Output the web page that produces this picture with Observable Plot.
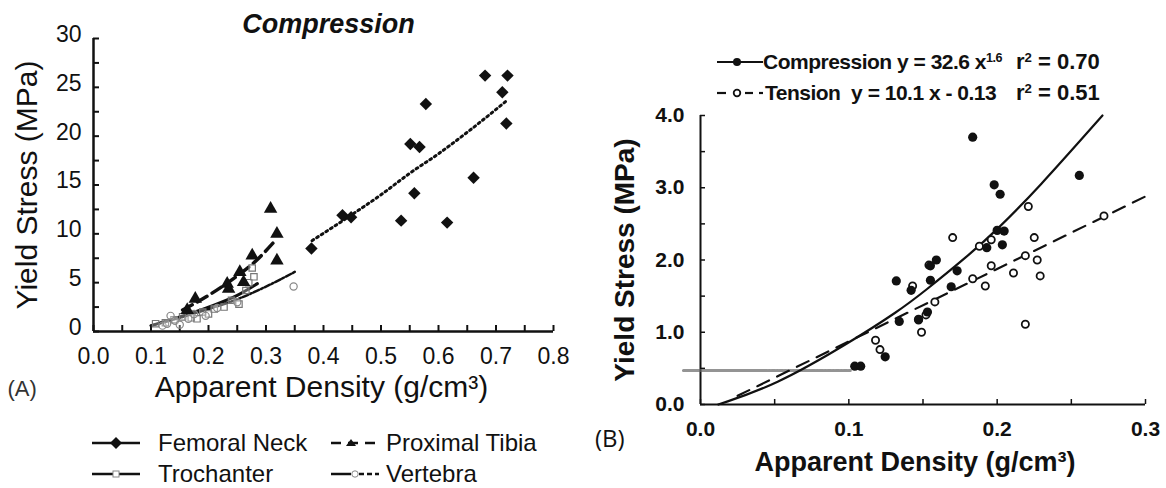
<!DOCTYPE html>
<html><head><meta charset="utf-8">
<script src="https://cdn.jsdelivr.net/npm/d3@7"></script>
<script src="https://cdn.jsdelivr.net/npm/@observablehq/plot@0.6"></script>
<style>
body{margin:0;background:#fff;}
#wrap{position:relative;width:1166px;height:488px;overflow:hidden;background:#fff;font-family:"Liberation Sans",Arial,sans-serif;color:#111;}
#wrap > *{position:absolute;}
.lg{white-space:pre;line-height:22px;}
.lgb{white-space:pre;line-height:22px;font-weight:bold;}
sup{font-size:0.6em;vertical-align:0.55em;line-height:0;}
</style></head><body><div id="wrap"></div>
<script>
// ---------- Panel A: Compression by anatomic site ----------
const neckX = [0.379,0.433,0.448,0.535,0.551,0.558,0.567,0.578,0.615,0.661,0.681,0.711,0.72,0.718];
const neckY = [8.5,11.9,11.7,11.35,19.2,14.15,18.9,23.3,11.15,15.75,26.2,24.5,26.2,21.3];
const neckFitX = [0.38,0.44,0.5,0.55,0.6,0.65,0.72];
const neckFitY = [9.3,11.6,14.0,16.2,18.2,20.4,23.7];

const tibiaX = [0.163,0.177,0.2325,0.235,0.2545,0.261,0.276,0.308,0.319,0.319];
const tibiaY = [2.2,3.35,4.88,4.37,6.08,5.05,7.78,12.56,10.0,7.27];
const tibiaFitX = [0.155,0.2,0.25,0.28,0.319];
const tibiaFitY = [2.2,3.7,5.7,7.1,9.5];

const trochX = [0.108,0.125,0.14,0.155,0.17,0.18,0.19,0.2,0.21,0.227,0.24,0.253,0.265,0.27,0.276,0.279];
const trochY = [0.8,0.9,1.2,1.5,1.4,1.3,2.0,1.8,2.3,2.5,3.2,2.8,4.2,5.0,6.5,5.6];
const trochFitX = [0.1,0.15,0.2,0.25,0.285];
const trochFitY = [0.6,1.5,2.5,3.7,4.9];

const vertX = [0.12,0.128,0.134,0.142,0.15,0.165,0.175,0.195,0.215,0.25,0.348];
const vertY = [0.6,0.8,1.6,1.1,0.7,1.3,1.8,1.6,2.4,3.0,4.6];
const vertFitX = [0.1,0.15,0.2,0.25,0.3,0.35];
const vertFitY = [0.6,1.4,2.3,3.3,4.6,6.1];

const aXTicks = [0,0.1,0.2,0.3,0.4,0.5,0.6,0.7,0.8];
const aXLabels = ["0.0","0.1","0.2","0.3","0.4","0.5","0.6","0.7","0.8"];
const aXMinor = [0,0.05,0.1,0.15,0.2,0.25,0.3,0.35,0.4,0.45,0.5,0.55,0.6,0.65,0.7,0.75,0.8];
const aYTicks = [0,5,10,15,20,25,30];
const aYLabels = ["0","5","10","15","20","25","30"];
const aYMinor = [0,2.5,5,7.5,10,12.5,15,17.5,20,22.5,25,27.5,30];

// ---------- Panel B: compression vs tension ----------
const compX = [0.1835,0.198,0.202,0.2554,0.2,0.2047,0.2035,0.193,0.159,0.155,0.173,0.155,0.132,0.142,0.169,0.134,0.147,0.153,0.1245,0.104,0.108];
const compY = [3.70,3.04,2.91,3.17,2.41,2.40,2.21,2.17,2.0,1.92,1.85,1.72,1.71,1.58,1.63,1.15,1.18,1.28,0.66,0.53,0.53];
const tensX = [0.221,0.272,0.170,0.196,0.225,0.188,0.219,0.227,0.196,0.154,0.211,0.229,0.1835,0.192,0.143,0.158,0.152,0.149,0.118,0.121,0.219,0.147];
const tensY = [2.74,2.61,2.31,2.28,2.31,2.19,2.06,2.0,1.92,1.93,1.82,1.78,1.74,1.64,1.64,1.42,1.24,1.0,0.89,0.76,1.11,1.17];
const compFitX = [0.012,0.05,0.1,0.134,0.15,0.18,0.2,0.227,0.271];
const compFitY = [0,0.26,0.85,1.3,1.55,2.05,2.42,2.98,4.0];
const tensFitX = [0.025,0.3];
const tensFitY = [0.12,2.88];
const smearX = [-0.0115,0.101];
const smearY = [0.47,0.47];

const bXTicks = [0,0.1,0.2,0.3];
const bXLabels = ["0.0","0.1","0.2","0.3"];
const bXMinor = [0,0.05,0.1,0.15,0.2,0.25,0.3];
const bYTicks = [0,1,2,3,4];
const bYLabels = ["0.0","1.0","2.0","3.0","4.0"];
const bYMinor = [0,0.5,1,1.5,2,2.5,3,3.5,4];

const zip = (xs, ys) => xs.map((x, i) => ({x, y: ys[i]}));
const ink = "#111";

const wrap = document.getElementById("wrap");

// ----- Panel A plot -----
const A = Plot.plot({
  width: 600, height: 420,
  marginLeft: 93, marginRight: 47, marginTop: 38, marginBottom: 89,
  x: {domain: [0, 0.8]}, y: {domain: [0, 30]},
  style: {fontFamily: "'Liberation Sans', Arial, sans-serif", color: ink, background: "transparent", overflow: "visible"},
  marks: [
    Plot.axisX(aXTicks, {tickSize: 0, tickPadding: 16, fontSize: 23, tickFormat: d => aXLabels[aXTicks.indexOf(d)], label: null}),
    Plot.axisY(aYTicks, {tickSize: 0, tickPadding: 12, dy: -4, fontSize: 23, tickFormat: d => aYLabels[aYTicks.indexOf(d)], label: null}),
    Plot.ruleX(aXMinor, {x: d => d, y1: () => 0, y2: () => 0, insetBottom: 6, stroke: ink, strokeWidth: 2}),
    Plot.ruleY(aYMinor, {y: d => d, x1: () => 0, x2: () => 0, insetRight: -6, stroke: ink, strokeWidth: 2}),
    Plot.ruleY([0], {stroke: ink, strokeWidth: 2.5}),
    Plot.ruleX([0], {stroke: ink, strokeWidth: 2.5}),
    // fits
    Plot.line(zip(trochFitX, trochFitY), {x: "x", y: "y", curve: "monotone-x", stroke: ink, strokeWidth: 3}),
    Plot.line(zip(vertFitX, vertFitY), {x: "x", y: "y", curve: "monotone-x", stroke: ink, strokeWidth: 2.5, strokeDasharray: "6,2,2,2"}),
    Plot.line(zip(tibiaFitX, tibiaFitY), {x: "x", y: "y", curve: "monotone-x", stroke: ink, strokeWidth: 3.5, strokeDasharray: "11,6"}),
    Plot.line(zip(neckFitX, neckFitY), {x: "x", y: "y", curve: "monotone-x", stroke: ink, strokeWidth: 3, strokeDasharray: "2,3.5"}),
    // points
    Plot.dot(zip(trochX, trochY), {x: "x", y: "y", symbol: "square", r: 3.6, stroke: "#777", strokeWidth: 1.2, fill: "white", fillOpacity: 0.3}),
    Plot.dot(zip(vertX, vertY), {x: "x", y: "y", symbol: "circle", r: 3.6, stroke: "#888", strokeWidth: 1.2, fill: "white", fillOpacity: 0.3}),
    Plot.dot(zip(tibiaX, tibiaY), {x: "x", y: "y", symbol: "triangle", r: 5, fill: ink, stroke: "none"}),
    Plot.dot(zip(neckX, neckY), {x: "x", y: "y", symbol: "diamond2", r: 5.6, fill: ink, stroke: "none"}),
    // titles & labels
    Plot.text(["Compression"], {frameAnchor: "top", dx: 5, dy: -6, lineAnchor: "bottom", fontSize: 27, fontWeight: "bold", fontStyle: "italic", fill: ink}),
    Plot.text(["Apparent Density (g/cm³)"], {frameAnchor: "bottom", dx: -2, dy: 65, lineAnchor: "bottom", fontSize: 30, fill: ink}),
    Plot.text(["Yield Stress (MPa)"], {frameAnchor: "left", dx: -66, rotate: -90, textAnchor: "middle", lineAnchor: "middle", fontSize: 30, fill: ink}),
    Plot.text(["(A)"], {frameAnchor: "bottom-left", dx: -86, dy: 64, textAnchor: "start", lineAnchor: "bottom", fontSize: 22, fill: "#333"})
  ]
});
A.style.left = "0px"; A.style.top = "0px";
wrap.appendChild(A);

// ----- Panel B plot -----
const B = Plot.plot({
  width: 566, height: 488,
  marginLeft: 100, marginRight: 21, marginTop: 115, marginBottom: 84,
  x: {domain: [0, 0.3]}, y: {domain: [0, 4]},
  style: {fontFamily: "'Liberation Sans', Arial, sans-serif", color: ink, background: "transparent", overflow: "visible"},
  marks: [
    Plot.axisX(bXTicks, {tickSize: 0, tickPadding: 17, fontSize: 21, fontWeight: "bold", tickFormat: d => bXLabels[bXTicks.indexOf(d)], label: null}),
    Plot.axisY(bYTicks, {tickSize: 0, tickPadding: 16, fontSize: 21, fontWeight: "bold", tickFormat: d => bYLabels[bYTicks.indexOf(d)], label: null}),
    Plot.ruleX(bXMinor, {x: d => d, y1: () => 0, y2: () => 0, insetBottom: 5, stroke: ink, strokeWidth: 1.5}),
    Plot.ruleY(bYMinor, {y: d => d, x1: () => 0, x2: () => 0, insetRight: -5, stroke: ink, strokeWidth: 1.5}),
    Plot.ruleY([0], {stroke: ink, strokeWidth: 2}),
    Plot.ruleX([0], {stroke: ink, strokeWidth: 2}),
    Plot.line(zip(smearX, smearY), {x: "x", y: "y", stroke: "#666", strokeWidth: 3, strokeDasharray: "4,1,2,1", strokeOpacity: 0.7}),
    Plot.line(zip(compFitX, compFitY), {x: "x", y: "y", curve: "basis", stroke: ink, strokeWidth: 2.2}),
    Plot.line(zip(tensFitX, tensFitY), {x: "x", y: "y", stroke: ink, strokeWidth: 2.2, strokeDasharray: "13,9"}),
    Plot.dot(zip(tensX, tensY), {x: "x", y: "y", r: 3.6, stroke: ink, strokeWidth: 1.8, fill: "white"}),
    Plot.dot(zip(compX, compY), {x: "x", y: "y", r: 4.6, fill: ink, stroke: "none"}),
    Plot.text(["Apparent Density (g/cm³)"], {frameAnchor: "bottom", dx: -8, dy: 66, lineAnchor: "bottom", fontSize: 27, fontWeight: "bold", fill: ink}),
    Plot.text(["Yield Stress (MPa)"], {frameAnchor: "left", dx: -75, rotate: -90, textAnchor: "middle", lineAnchor: "middle", fontSize: 28, fontWeight: "bold", fill: ink})
  ]
});
B.style.left = "600px"; B.style.top = "0px";
wrap.appendChild(B);

// ----- HTML labels and legends -----
function addDiv(html, left, top, cls, extra) {
  const d = document.createElement("div");
  d.className = cls; d.innerHTML = html;
  d.style.left = left + "px"; d.style.top = top + "px";
  if (extra) Object.assign(d.style, extra);
  wrap.appendChild(d);
  return d;
}
function addSvg(inner, left, top, w, h) {
  const d = document.createElement("div");
  d.style.left = left + "px"; d.style.top = top + "px";
  d.innerHTML = `<svg width="${w}" height="${h}" viewBox="0 0 ${w} ${h}">${inner}</svg>`;
  wrap.appendChild(d);
}

addDiv("(B)", 595, 425, "lg", {fontSize: "24px", lineHeight: "26px", fontFamily: "'Open Sans','Liberation Sans',sans-serif"});

// Legend A
const legA = [
  {name: "Femoral Neck", left: 92, row: 443,
   sw: `<line x1="0" y1="10" x2="48" y2="10" stroke="${ink}" stroke-width="2.5"/><path d="M24,4 L30,10 L24,16 L18,10Z" fill="${ink}"/>`},
  {name: "Proximal Tibia", left: 331, row: 443,
   sw: `<line x1="0" y1="10" x2="48" y2="10" stroke="${ink}" stroke-width="2.5" stroke-dasharray="10,7"/><path d="M20,6 L25,13 L15,13Z" fill="${ink}"/>`},
  {name: "Trochanter", left: 92, row: 474,
   sw: `<line x1="0" y1="10" x2="48" y2="10" stroke="${ink}" stroke-width="2.5"/><rect x="21" y="7" width="6" height="6" fill="white" stroke="#888" stroke-width="1"/>`},
  {name: "Vertebra", left: 331, row: 474,
   sw: `<line x1="0" y1="10" x2="20" y2="10" stroke="${ink}" stroke-width="2.5"/><line x1="28" y1="10" x2="48" y2="10" stroke="${ink}" stroke-width="2.5" stroke-dasharray="5,3"/><circle cx="24" cy="10" r="3.2" fill="white" stroke="#888" stroke-width="1"/>`}
];
legA.forEach(it => {
  addSvg(it.sw, it.left, it.row - 10, 48, 20);
  addDiv(it.name, it.left + (it.left < 200 ? 66 : 55), it.row - 11, "lg", {fontSize: "24px"});
});

// Legend B
addSvg(`<line x1="0" y1="10" x2="46" y2="10" stroke="${ink}" stroke-width="2.2"/><circle cx="20" cy="10" r="4" fill="${ink}"/>`, 717, 52, 46, 20);
addSvg(`<line x1="0" y1="10" x2="9" y2="10" stroke="${ink}" stroke-width="2.2"/><line x1="28" y1="10" x2="36" y2="10" stroke="${ink}" stroke-width="2.2"/><line x1="42" y1="10" x2="46" y2="10" stroke="${ink}" stroke-width="2.2"/><circle cx="20" cy="10" r="3.3" fill="white" stroke="${ink}" stroke-width="1.8"/>`, 717, 83, 46, 20);
addDiv("Compression y = 32.6 x<sup>1.6</sup>", 763, 51, "lgb", {fontSize: "21px", letterSpacing: "-0.5px"});
addDiv("Tension&nbsp; y = 10.1 x - 0.13", 765, 82, "lgb", {fontSize: "21px", letterSpacing: "-0.5px"});
addDiv("r<sup>2</sup> = 0.70", 1016, 51, "lgb", {fontSize: "22px"});
addDiv("r<sup>2</sup> = 0.51", 1016, 82, "lgb", {fontSize: "22px"});
</script>
</body></html>
